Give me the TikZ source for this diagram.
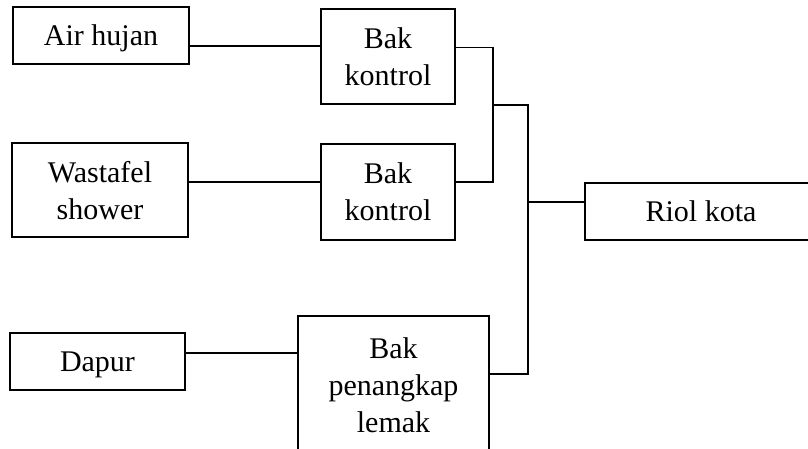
\documentclass[tikz,border=0pt]{standalone}
\usepackage{fontspec}
\setmainfont{Liberation Serif}
\begin{document}
\begin{tikzpicture}[x=1pt,y=-1pt,
  box/.style={draw=black,line width=1.5pt,inner sep=0pt,align=center,
    text depth=0pt,font=\fontsize{30}{37}\selectfont},
  wire/.style={draw=black,line width=1.6pt,line join=miter}]
\path[use as bounding box] (0,0) rectangle (808,449);
\clip (0,0) rectangle (808,449);
\node[box,minimum width=176pt,minimum height=57pt] (air) at (101,35.5) {Air hujan};
\node[box,minimum width=134pt,minimum height=95pt] (bk1) at (388,56.5) {Bak\\kontrol};
\node[box,minimum width=176pt,minimum height=94pt] (was) at (100,190) {Wastafel\\shower};
\node[box,minimum width=134pt,minimum height=96pt] (bk2) at (388,192) {Bak\\kontrol};
\node[box,minimum width=175pt,minimum height=57pt] (dap) at (97.5,361.5) {Dapur};
\node[box,minimum width=191pt,minimum height=139pt] (bpl) at (393.5,385.5) {Bak\\penangkap\\lemak};
\node[box,minimum width=232pt,minimum height=57pt] (riol) at (701,211.5) {Riol kota};
\coordinate (h1) at (0,46);
\coordinate (h2) at (0,182);
\coordinate (h3) at (0,353);
\coordinate (ja) at (493,47.5);
\coordinate (jb) at (493,182);
\coordinate (jc) at (528,105);
\coordinate (jd) at (528,374);
\coordinate (je) at (528,202);
\draw[wire] (air.east |- h1) -- (bk1.west |- h1);
\draw[wire] (was.east |- h2) -- (bk2.west |- h2);
\draw[wire] (dap.east |- h3) -- (bpl.west |- h3);
\draw[wire] (bk1.east |- ja) -- (ja) -- (jb) -- (bk2.east |- jb);
\draw[wire] (ja |- jc) -- (jc) -- (jd) -- (bpl.east |- jd);
\draw[wire] (je) -- (riol.west |- je);
\end{tikzpicture}
\end{document}
